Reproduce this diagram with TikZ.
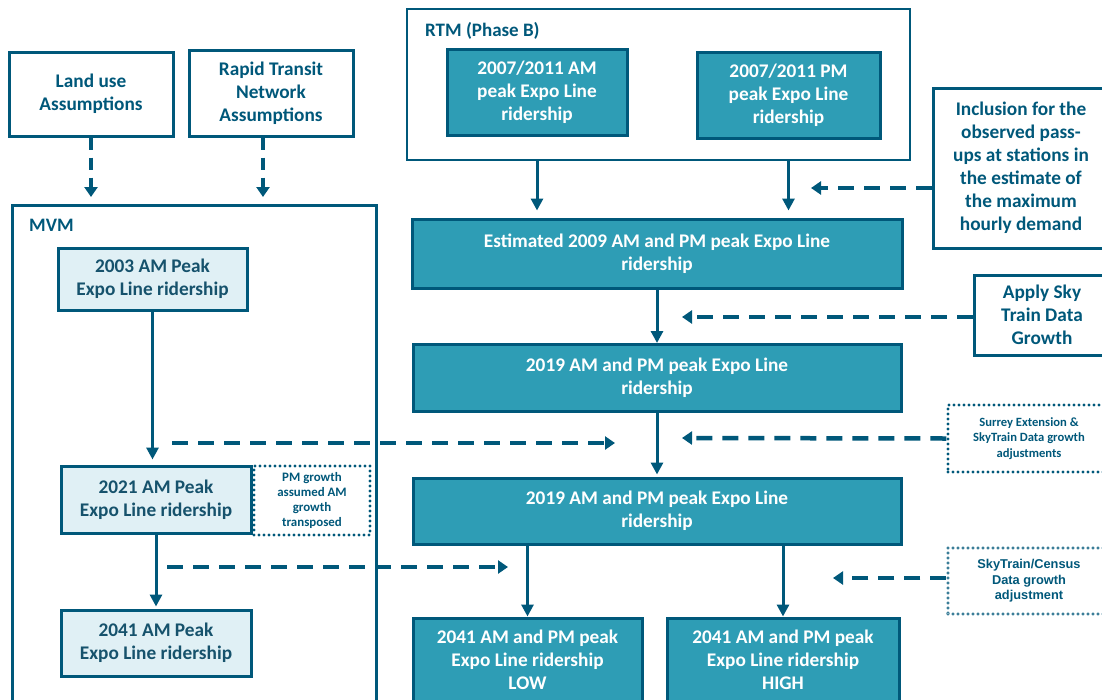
\documentclass[tikz,border=0pt]{standalone}
\usepackage{fontspec}
\setmainfont{Carlito}
\newfontfamily\arialish{Liberation Sans}
\usetikzlibrary{arrows.meta}
\definecolor{edgeblue}{RGB}{0,88,122}
\definecolor{tealfill}{RGB}{46,157,181}
\definecolor{palefill}{RGB}{224,240,245}
\definecolor{inkblue}{RGB}{22,82,108}

\begin{document}
\begin{tikzpicture}[x=1pt, y=-1pt,
  box/.style={rectangle, draw=edgeblue, line width=3pt, inner sep=0pt, align=center, font=\bfseries\fontsize{19.3}{23}\selectfont},
  mainbox/.style={box, fill=tealfill, text=white},
  palebox/.style={box, fill=palefill, text=inkblue},
  plainbox/.style={box, fill=white, text=edgeblue},
  groupbox/.style={rectangle, draw=edgeblue, line width=2.5pt, inner sep=0pt},
  grouplabel/.style={anchor=west, inner sep=0pt, text=edgeblue, font=\bfseries\fontsize{19}{22}\selectfont},
  notebox/.style={rectangle, draw=edgeblue, line width=3.2pt, dash pattern=on 0pt off 5pt, line cap=round, inner sep=0pt, align=center, text=edgeblue},
  hollow/.style={postaction={draw=white, line width=1.3pt, dash pattern=on 0pt off 5pt, line cap=round}},
  flow/.style={draw=edgeblue, line width=3pt, -{Triangle[length=12pt,width=12pt]}},
  feed/.style={draw=edgeblue, line width=4.5pt, dash pattern=on 16pt off 10pt, -{Triangle[length=10pt,width=13pt]}}]
  \fill[white] (0,0) rectangle (1102,699);
  \useasboundingbox (0,0) rectangle (1102,699);
  \node[plainbox, minimum width=164pt, minimum height=84pt] (0) at (91,94) {Land use\\Assumptions};
  \node[plainbox, minimum width=164pt, minimum height=86pt] (1) at (271,93) {Rapid Transit\\Network\\Assumptions};
  \node[groupbox, minimum width=364pt, minimum height=530pt, anchor=north west] (2) at (11,204) {};
  \node[grouplabel] (3) at (29,225) {MVM};
  \node[palebox, minimum width=189pt, minimum height=62pt] (4) at (152.5,279) {2003 AM Peak\\Expo Line ridership};
  \node[palebox, minimum width=190pt, minimum height=67pt] (5) at (156,499.5) {2021 AM Peak\\Expo Line ridership};
  \node[notebox, minimum width=116pt, minimum height=69pt, font=\bfseries\fontsize{12.9}{15.3}\selectfont] (6) at (312,500.5) {PM growth\\assumed AM\\growth\\transposed};
  \node[palebox, minimum width=190pt, minimum height=66pt] (7) at (156,643) {2041 AM Peak\\Expo Line ridership};
  \node[groupbox, minimum width=503pt, minimum height=151pt] (8) at (658.5,84.5) {};
  \node[grouplabel] (9) at (425,31) {RTM (Phase B)};
  \node[mainbox, minimum width=180pt, minimum height=86pt] (10) at (537,92) {2007/2011 AM\\peak Expo Line\\ridership};
  \node[mainbox, minimum width=183pt, minimum height=86pt] (11) at (788.5,95) {2007/2011 PM\\peak Expo Line\\ridership};
  \node[plainbox, minimum width=176pt, minimum height=160pt] (12) at (1021,168) {Inclusion for the\\observed pass-\\ups at stations in\\the estimate of\\the maximum\\hourly demand};
  \node[mainbox, minimum width=490pt, minimum height=69pt] (13) at (657,253.5) {Estimated 2009 AM and PM peak Expo Line\\ridership};
  \node[plainbox, minimum width=136pt, minimum height=80pt] (14) at (1042,315) {Apply Sky\\Train Data\\Growth};
  \node[mainbox, minimum width=488pt, minimum height=67pt] (15) at (657,378) {2019 AM and PM peak Expo Line\\ridership};
  \node[notebox, minimum width=162pt, minimum height=67pt, font=\bfseries\fontsize{12.6}{15.5}\selectfont] (16) at (1029,438.5) {Surrey Extension \&\\SkyTrain Data growth\\adjustments};
  \node[mainbox, minimum width=488pt, minimum height=66pt] (17) at (657,511) {2019 AM and PM peak Expo Line\\ridership};
  \node[notebox, hollow, minimum width=162pt, minimum height=66pt, font=\arialish\bfseries\fontsize{12.8}{15.5}\selectfont] (18) at (1029,581) {SkyTrain/Census\\Data growth\\adjustment};
  \node[mainbox, minimum width=229pt, minimum height=84pt] (19) at (527.5,660) {2041 AM and PM peak\\Expo Line ridership\\LOW};
  \node[mainbox, minimum width=232pt, minimum height=84pt] (20) at (783,660) {2041 AM and PM peak\\Expo Line ridership\\HIGH};
  \coordinate (a) at (657,0);
  \coordinate (b) at (811,188);
  \coordinate (c) at (682,317);
  \coordinate (d) at (682,438);
  \coordinate (e) at (833,578);
  \coordinate (f) at (172,443);
  \coordinate (g) at (615,443);
  \coordinate (h) at (167,567);
  \coordinate (i) at (508,567);
  \draw[feed, dash pattern=on 12pt off 8pt, shorten >=7pt] (0.south) -- (0.south |- 2.north);
  \draw[feed, dash pattern=on 12pt off 8pt, shorten >=7pt] ([xshift=-8pt]1.south) -- ([xshift=-8pt]1.south |- 2.north);
  \draw[flow, shorten >=5pt] (4.south) -- (4.south |- 5.north);
  \draw[flow, shorten >=2pt] (5.south) -- (7.north);
  \draw[flow, shorten >=7pt] (10 |- 8.south) -- (10 |- 13.north);
  \draw[flow, shorten >=7pt] (11 |- 8.south) -- (11 |- 13.north);
  \draw[flow] (13.south) -- (15.north);
  \draw[flow, shorten >=2pt] (15.south) -- (17.north);
  \draw[flow] (19 |- 17.south) -- (19.north);
  \draw[flow] (20 |- 17.south) -- (20.north);
  \draw[feed] (12.west |- b) -- (b);
  \draw[feed] (14.west |- c) -- (c);
  \draw[feed] (16.west) -- (d);
  \draw[feed] (18.west |- e) -- (e);
  \draw[feed] (f) -- (g);
  \draw[feed] (h) -- (i);
\end{tikzpicture}
\end{document}
